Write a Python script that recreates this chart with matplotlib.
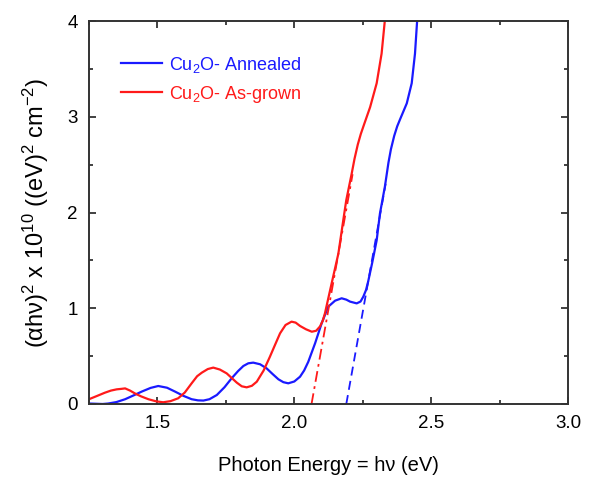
import matplotlib
matplotlib.use("Agg")
import matplotlib.pyplot as plt
import numpy as np

plt.rcParams['font.family'] = ['Liberation Sans', 'DejaVu Sans']
plt.rcParams['mathtext.fontset'] = 'custom'
plt.rcParams['mathtext.rm'] = 'Liberation Sans'
plt.rcParams['mathtext.it'] = 'Liberation Sans:italic'
plt.rcParams['mathtext.bf'] = 'Liberation Sans:bold'

# Cu2O annealed (blue)
annealed_x = [1.25, 1.30, 1.32, 1.35, 1.382, 1.413, 1.443, 1.475, 1.503, 1.535, 1.564, 1.595,
              1.625, 1.648, 1.668, 1.69, 1.717, 1.745, 1.771, 1.795, 1.814, 1.832, 1.85, 1.875,
              1.899, 1.92, 1.942, 1.96, 1.978, 2.0, 2.021, 2.036, 2.051, 2.076, 2.10, 2.124,
              2.149, 2.173, 2.19, 2.204, 2.228, 2.242, 2.252, 2.262, 2.27, 2.285, 2.301, 2.313,
              2.331, 2.344, 2.353, 2.365, 2.376, 2.386, 2.411, 2.429, 2.441, 2.449, 2.452]
annealed_y = [0.005, 0.0, 0.005, 0.02, 0.05, 0.09, 0.13, 0.168, 0.188, 0.17, 0.13, 0.085,
              0.05, 0.038, 0.036, 0.05, 0.094, 0.175, 0.268, 0.345, 0.397, 0.425, 0.432, 0.415,
              0.372, 0.315, 0.258, 0.228, 0.216, 0.235, 0.285, 0.35, 0.44, 0.634, 0.843, 1.016,
              1.079, 1.104, 1.09, 1.069, 1.051, 1.07, 1.12, 1.19, 1.28, 1.48, 1.71, 1.99,
              2.27, 2.52, 2.66, 2.8, 2.9, 2.97, 3.14, 3.35, 3.66, 4.01, 4.15]

# Cu2O as-grown (red)
asgrown_x = [1.25, 1.28, 1.308, 1.33, 1.351, 1.368, 1.382, 1.40, 1.418, 1.44, 1.467, 1.495,
             1.521, 1.548, 1.576, 1.60, 1.625, 1.645, 1.662, 1.684, 1.704, 1.728, 1.753, 1.772,
             1.79, 1.808, 1.826, 1.845, 1.863, 1.888, 1.911, 1.93, 1.948, 1.968, 1.99, 2.005,
             2.021, 2.043, 2.064, 2.08, 2.094, 2.104, 2.112, 2.131, 2.161, 2.179, 2.19, 2.21,
             2.22, 2.232, 2.243, 2.255, 2.277, 2.301, 2.319, 2.331, 2.335]
asgrown_y = [0.05, 0.085, 0.118, 0.14, 0.153, 0.158, 0.163, 0.14, 0.11, 0.08, 0.05, 0.028,
             0.018, 0.03, 0.06, 0.12, 0.216, 0.29, 0.327, 0.365, 0.38, 0.36, 0.32, 0.27,
             0.223, 0.185, 0.174, 0.19, 0.233, 0.35, 0.494, 0.62, 0.738, 0.825, 0.86, 0.85,
             0.815, 0.78, 0.755, 0.765, 0.81, 0.87, 0.947, 1.19, 1.57, 1.92, 2.13, 2.41,
             2.56, 2.71, 2.82, 2.92, 3.10, 3.35, 3.66, 4.01, 4.15]

# Tauc extrapolation lines: band-gap intercepts (eV), slopes, top of each line
annealed_gap, annealed_slope, annealed_top = 2.19, 16.0, 2.3
asgrown_gap, asgrown_slope, asgrown_top = 2.063, 16.0, 2.4

legend_labels = ['Cu$_2$O- Annealed', 'Cu$_2$O- As-grown']
x_ticks = [1.5, 2.0, 2.5, 3.0]
x_tick_labels = ['1.5', '2.0', '2.5', '3.0']
y_ticks = [0, 1, 2, 3, 4]
y_tick_labels = ['0', '1', '2', '3', '4']

blue = '#1a1aff'
red = '#ff1a1a'

fig = plt.figure(figsize=(5.89, 4.78), dpi=100)
ax = fig.add_axes([89/589, 1 - 404/478, 479/589, 383/478])

l1, = ax.plot(annealed_x, annealed_y, color=blue, lw=1.6, label=legend_labels[0])
l2, = ax.plot(asgrown_x, asgrown_y, color=red, lw=1.6, label=legend_labels[1])

tx = np.array([annealed_gap, annealed_gap + annealed_top / annealed_slope])
ax.plot(tx, annealed_slope * (tx - annealed_gap), color=blue, lw=1.3, ls=(0, (5, 3)))
tx = np.array([asgrown_gap, asgrown_gap + asgrown_top / asgrown_slope])
ax.plot(tx, asgrown_slope * (tx - asgrown_gap), color=red, lw=1.3, ls=(0, (6, 2.5, 1.5, 2.5)))

ax.set_xlim(1.25, 3.0)
ax.set_ylim(0, 4)
ax.set_xticks(x_ticks)
ax.set_xticklabels(x_tick_labels)
ax.set_xticks([1.25, 1.75, 2.25, 2.75], minor=True)
ax.set_yticks(y_ticks)
ax.set_yticklabels(y_tick_labels)
ax.set_yticks([0.5, 1.5, 2.5, 3.5], minor=True)
ax.tick_params(which='both', direction='in', top=True, right=True, color='#333333', width=1.3)
ax.tick_params(which='major', length=5, labelsize=13.5, pad=8)
ax.tick_params(which='minor', length=3)
for s in ax.spines.values():
    s.set_color('#333333')
    s.set_linewidth(1.4)

ax.set_xlabel('Photon Energy = hν (eV)', fontsize=14.5, labelpad=17)
ax.set_ylabel('(αhν)$^{2}$ x 10$^{10}$ ((eV)$^{2}$ cm$^{-2}$)', fontsize=17, labelpad=12)

leg = ax.legend(handles=[l1, l2], loc='upper left', bbox_to_anchor=(0.066, 0.912),
                frameon=False, fontsize=13, handlelength=2.3, handletextpad=0.4,
                labelspacing=0.5, borderpad=0, borderaxespad=0)
for t, c in zip(leg.get_texts(), [blue, red]):
    t.set_color(c)

fig.savefig('out.png', dpi=100)
